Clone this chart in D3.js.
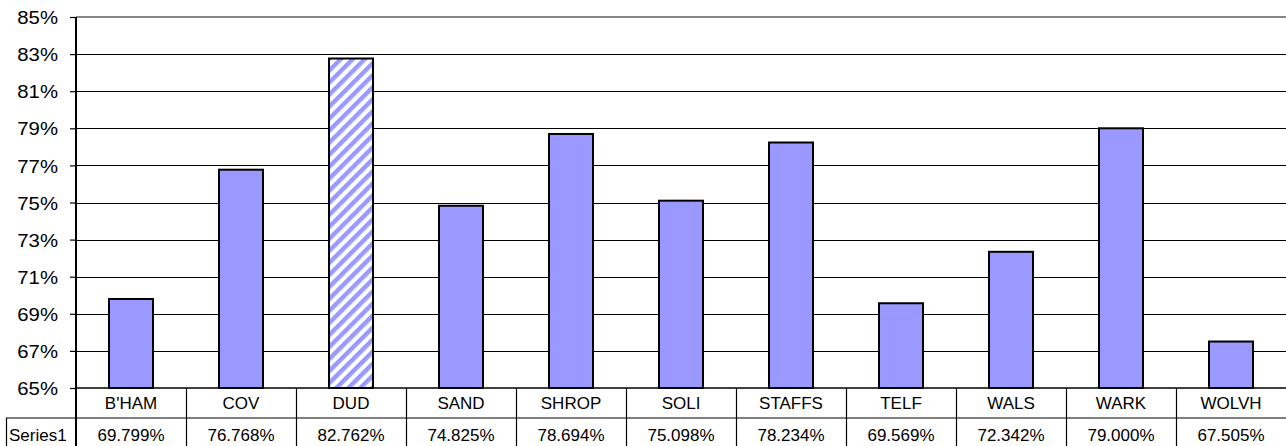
<!DOCTYPE html>
<html><head><meta charset="utf-8">
<script src="https://cdn.jsdelivr.net/npm/d3@7"></script>
<style>body{margin:0;background:#fff}svg{display:block}text{font-family:"Liberation Sans",Arial,sans-serif;fill:#000}</style>
</head><body>
<svg id="c" width="1286" height="446"></svg>
<script>
const categories = ["B'HAM","COV","DUD","SAND","SHROP","SOLI","STAFFS","TELF","WALS","WARK","WOLVH"];
const values = [69.799,76.768,82.762,74.825,78.694,75.098,78.234,69.569,72.342,79.000,67.505];
const valueLabels = ["69.799%","76.768%","82.762%","74.825%","78.694%","75.098%","78.234%","69.569%","72.342%","79.000%","67.505%"];
const highlighted = ["DUD"];
const yTicks = [65,67,69,71,73,75,77,79,81,83,85];
const seriesName = "Series1";

const svg = d3.select("#c");
const L = 76, R = 1286, T = 17, B = 388, row1 = 418;
const x = d3.scaleBand().domain(categories).range([L, R]).padding(0);
const y = d3.scaleLinear().domain([65, 85]).range([B, T]);
const fs = 18.5, sx = 1.1;
const tfs = 16.2, tsx = 1.05;

const defs = svg.append("defs");
const pat = defs.append("pattern").attr("id","stripe").attr("patternUnits","userSpaceOnUse")
  .attr("width",8.5).attr("height",8.5).attr("patternTransform","rotate(45)");
pat.append("rect").attr("width",8.5).attr("height",8.5).attr("fill","#fff");
pat.append("rect").attr("width",4.4).attr("height",8.5).attr("fill","#9999ff");

// gridlines
svg.append("g").selectAll("line").data(yTicks.filter(t=>t>65 && t<85)).join("line")
  .attr("x1",L).attr("x2",R).attr("y1",d=>Math.round(y(d))+0.5).attr("y2",d=>Math.round(y(d))+0.5)
  .attr("stroke","#000").attr("stroke-width",1.2);
// top border
svg.append("line").attr("x1",L).attr("x2",R).attr("y1",y(85)).attr("y2",y(85)).attr("stroke","#888").attr("stroke-width",2);

// bars
const bw = x.bandwidth()*0.4;
svg.append("g").selectAll("rect").data(categories).join("rect")
  .attr("x",(d)=>x(d)+x.bandwidth()/2-bw/2)
  .attr("width",bw)
  .attr("y",(d,i)=>y(values[i]))
  .attr("height",(d,i)=>B-y(values[i]))
  .attr("fill",d=>highlighted.includes(d)?"url(#stripe)":"#9999ff")
  .attr("stroke","#000").attr("stroke-width",2);

// y axis
const yAxis = d3.axisLeft(y).tickValues(yTicks).tickSize(6).tickPadding(10).tickFormat(d=>d+"%");
const ga = svg.append("g").attr("transform",`translate(${L},0)`).call(yAxis);
ga.select(".domain").remove();
ga.selectAll(".tick line").attr("stroke","#000").attr("stroke-width",1.2);
ga.selectAll(".tick text").attr("font-size",fs).attr("fill","#000")
  .attr("transform",`scale(${sx},1)`).attr("x",-18/sx).attr("dy","0.36em");
svg.append("line").attr("x1",L).attr("x2",L).attr("y1",T).attr("y2",446).attr("stroke","#000").attr("stroke-width",2);

// x axis line
svg.append("line").attr("x1",L).attr("x2",R).attr("y1",B).attr("y2",B).attr("stroke","#000").attr("stroke-width",1.5);

// data table
const tg = svg.append("g");
tg.selectAll("line.sep").data(categories.slice(1)).join("line")
  .attr("x1",d=>Math.round(x(d))+0.5).attr("x2",d=>Math.round(x(d))+0.5).attr("y1",B).attr("y2",446)
  .attr("stroke","#000").attr("stroke-width",1.2);
tg.append("line").attr("x1",6).attr("x2",R).attr("y1",row1).attr("y2",row1).attr("stroke","#000").attr("stroke-width",1.2);
tg.append("line").attr("x1",6.5).attr("x2",6.5).attr("y1",row1).attr("y2",446).attr("stroke","#000").attr("stroke-width",1.2);

function txt(g, xp, yp, s, anchor){
  g.append("text").attr("transform",`translate(${xp},${yp}) scale(${tsx},1)`)
   .attr("text-anchor",anchor).attr("font-size",tfs).attr("dy","0.36em").text(s);
}
categories.forEach((c,i)=>{
  const cx = x(c)+x.bandwidth()/2;
  txt(tg, cx, 403, c, "middle");
  txt(tg, cx, 435, valueLabels[i], "middle");
});
txt(tg, 9, 435, seriesName, "start");
</script>
</body></html>
